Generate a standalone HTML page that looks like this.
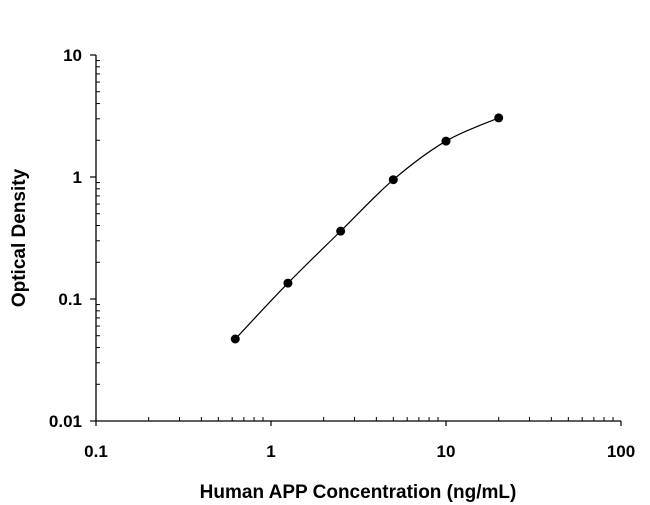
<!DOCTYPE html>
<html><head><meta charset="utf-8"><style>
body{margin:0;background:#fff;}
svg{display:block;font-family:"Liberation Sans",sans-serif;}
</style></head><body>
<svg id="chart" width="650" height="505"></svg>
<script>
const xTickLabels=["0.1","1","10","100"];
const yTickLabels=["0.01","0.1","1","10"];
const concentrations=[0.625,1.25,2.5,5,10,20];
const odValues=[0.047,0.135,0.36,0.95,1.97,3.05];
const NS="http://www.w3.org/2000/svg";
const svg=document.getElementById('chart');
const X0=96,X1=621,Y0=421,Y1=55;
const xs=v=>X0+(Math.log10(v)+1)*(X1-X0)/3;
const ys=v=>Y0-(Math.log10(v)+2)*(Y0-Y1)/3;
function mk(t,a){const e=document.createElementNS(NS,t);for(const k in a)e.setAttribute(k,a[k]);svg.appendChild(e);return e;}
let e=mk('line',{x1:X0,y1:Y0,x2:X1,y2:Y0,stroke:'#000','stroke-width':1.3});


e=mk('line',{x1:X0,y1:Y0,x2:X0,y2:Y1,stroke:'#000','stroke-width':1.3});


for(let d=0;d<3;d++){for(let m=2;m<=9;m++){const v=Math.pow(10,d-1)*m;
e=mk('line',{x1:xs(v),y1:Y0,x2:xs(v),y2:Y0-4,stroke:'#000','stroke-width':1});


const w=Math.pow(10,d-2)*m;
e=mk('line',{x1:X0,y1:ys(w),x2:X0+4,y2:ys(w),stroke:'#000','stroke-width':1});

}}
xTickLabels.forEach((l,i)=>{const x=xs(parseFloat(l));
e=mk('line',{x1:x,y1:Y0,x2:x,y2:Y0+5,stroke:'#000','stroke-width':1.2});


e=mk('text',{x:x,y:Y0+36,'text-anchor':'middle','font-size':17,'font-weight':'bold'});e.textContent=l;

});
yTickLabels.forEach((l,i)=>{const y=ys(parseFloat(l));
e=mk('line',{x1:X0-6,y1:y,x2:X0,y2:y,stroke:'#000','stroke-width':1.2});


e=mk('text',{x:X0-14,y:y+6,'text-anchor':'end','font-size':17,'font-weight':'bold'});e.textContent=l;

});
// smooth curve via Catmull-Rom in log space
const P=concentrations.map((c,i)=>[xs(c),ys(odValues[i])]);
let d='M'+P[0][0]+','+P[0][1];
for(let i=0;i<P.length-1;i++){const p0=P[i-1]||P[i],p1=P[i],p2=P[i+1],p3=P[i+2]||p2;
d+=` C${p1[0]+(p2[0]-p0[0])/6},${p1[1]+(p2[1]-p0[1])/6} ${p2[0]-(p3[0]-p1[0])/6},${p2[1]-(p3[1]-p1[1])/6} ${p2[0]},${p2[1]}`;}
e=mk('path',{d:d,fill:'none',stroke:'#000','stroke-width':1.2});


P.forEach(p=>{e=mk('circle',{cx:p[0],cy:p[1],r:4.5,fill:'#000'});

});
e=mk('text',{x:358,y:498,'text-anchor':'middle','font-size':19,'font-weight':'bold'});e.textContent='Human APP Concentration (ng/mL)';


e=mk('text',{x:0,y:0,'text-anchor':'middle','font-size':19,'font-weight':'bold',transform:'translate(25,238) rotate(-90)'});e.textContent='Optical Density';


</script>
</body></html>
